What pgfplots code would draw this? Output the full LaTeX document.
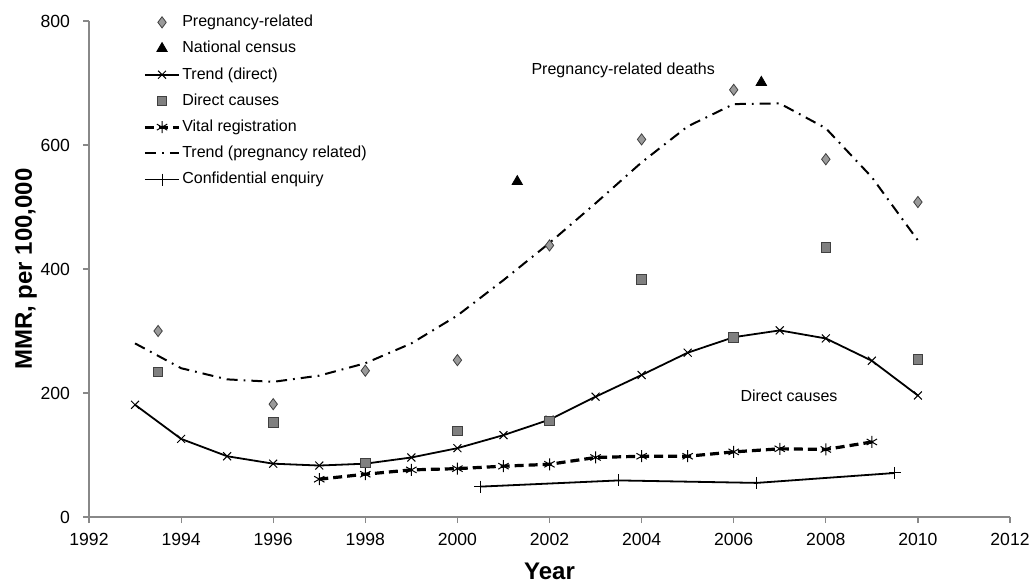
\documentclass[border=0pt]{standalone}
\usepackage{pgfplots}
\pgfplotsset{compat=1.18}
\usepackage{fontspec}
\setmainfont{Liberation Sans}
\definecolor{axgray}{HTML}{888888}
\definecolor{diafill}{HTML}{9A9A9A}
\definecolor{sqfill}{HTML}{808080}
\definecolor{mkedge}{HTML}{404040}
\begin{document}
\begin{tikzpicture}
\begin{axis}[
  scale only axis,
  width=460.5pt, height=248pt,
  xmin=1992, xmax=2012, ymin=0, ymax=800,
  xtick={1992,1994,...,2012}, ytick={0,200,...,800},
  axis lines=left,
  axis line style={axgray, line width=0.6pt, -},
  tick style={axgray, line width=0.6pt},
  tick align=outside, major tick length=3pt,
  xtick pos=bottom, ytick pos=left,
  /pgf/number format/assume math mode=true,
  /pgf/number format/1000 sep={},
  ticklabel style={font=\fontsize{8.8}{10}\selectfont, black},
  xticklabel style={yshift=-1.5pt},
  yticklabel style={xshift=-3pt},
  xlabel={\textbf{Year}}, ylabel={\textbf{MMR, per 100,000}},
  label style={font=\fontsize{12}{14}\selectfont},
  xlabel style={yshift=-2pt},
  ylabel style={yshift=-5pt},
  clip=false,
  legend cell align=left,
  legend style={draw=none, fill=none, at={(0.0586,1.016)}, anchor=north west,
    font=\fontsize{8}{9.5}\selectfont, row sep=4.2pt, inner sep=0pt,
    nodes={inner sep=0.8pt}},
]
\addplot[only marks, mark=diamond*, mark size=2.8pt, mark options={fill=diafill, draw=mkedge, line width=0.4pt}] coordinates {
(1993.5,300) (1996,182) (1998,236) (2000,253) (2002,438) (2004,609) (2006,689) (2008,577) (2010,508)};
\addlegendentry{Pregnancy-related}
\addplot[only marks, mark=triangle*, mark size=3pt, mark options={fill=black, draw=black}] coordinates {
(2001.3,541) (2006.6,701)};
\addlegendentry{National census}
\addplot[black, line width=0.9pt, mark=x, mark size=2.8pt, mark options={line width=0.5pt}] coordinates {
(1993,181) (1994,126) (1995,98) (1996,86) (1997,83) (1998,86) (1999,96) (2000,111) (2001,132) (2002,157) (2003,194) (2004,229) (2005,265) (2006,290) (2007,301) (2008,288) (2009,252) (2010,196)};
\addlegendentry{Trend (direct)}
\addplot[only marks, mark=square*, mark size=2.4pt, mark options={fill=sqfill, draw=mkedge, line width=0.5pt}] coordinates {
(1993.5,234) (1996,152) (1998,87) (2000,139) (2002,155) (2004,383) (2006,290) (2008,435) (2010,254)};
\addlegendentry{Direct causes}
\addplot[black, line width=1.6pt, dash pattern=on 4.5pt off 2.5pt, mark=asterisk, mark size=3pt, mark options={solid, line width=0.5pt}] coordinates {
(1997,61) (1998,69) (1999,76) (2000,78) (2001,82) (2002,85) (2003,96) (2004,98) (2005,98) (2006,105) (2007,110) (2008,109) (2009,121)};
\addlegendentry{Vital registration}
\addplot[black, line width=1pt, dash pattern=on 5.5pt off 3pt on 0.9pt off 3pt] coordinates {
(1993,280) (1994,240) (1995,222) (1996,218) (1997,228) (1998,248) (1999,280) (2000,325) (2001,382) (2002,442) (2003,506) (2004,572) (2005,630) (2006,666) (2007,667) (2008,627) (2009,548) (2010,446)};
\addlegendentry{Trend (pregnancy related)}
\addplot[black, line width=0.9pt, mark=+, mark size=3pt, mark options={line width=0.5pt}] coordinates {
(2000.5,49) (2003.5,59) (2006.5,55) (2009.5,71)};
\addlegendentry{Confidential enquiry}
\node[font=\fontsize{8}{9.5}\selectfont] at (axis cs:2003.6,720) {Pregnancy-related deaths};
\node[font=\fontsize{8}{9.5}\selectfont] at (axis cs:2007.2,196) {Direct causes};
\coordinate (bl) at (rel axis cs:0,0);
\end{axis}
\pgfresetboundingbox
\path (bl) ++(-44.5pt,-33pt) rectangle ++(515.5pt,291.5pt);
\end{tikzpicture}
\end{document}
